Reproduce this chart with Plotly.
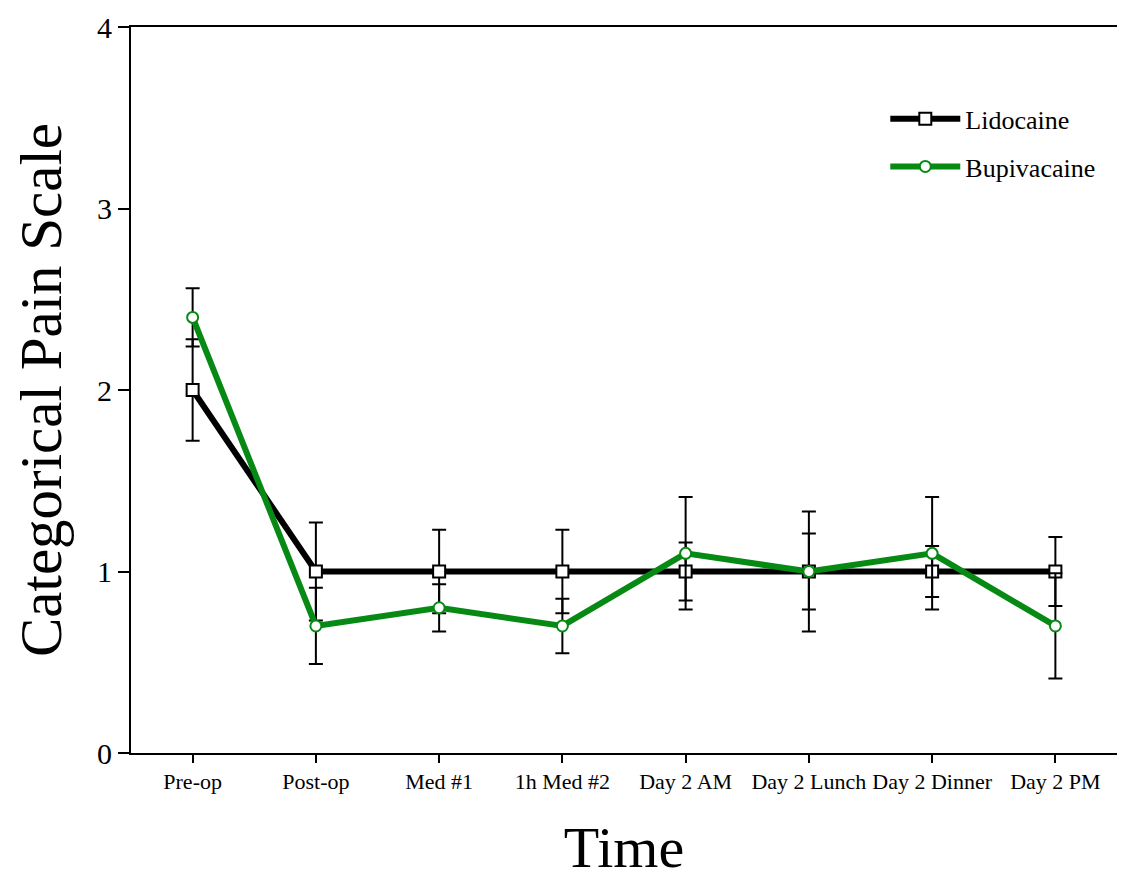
import plotly.graph_objects as go

categories = ["Pre-op", "Post-op", "Med #1", "1h Med #2", "Day 2 AM", "Day 2 Lunch", "Day 2 Dinner", "Day 2 PM"]
lidocaine = [2.0, 1.0, 1.0, 1.0, 1.0, 1.0, 1.0, 1.0]
lidocaine_err = [0.28, 0.27, 0.23, 0.23, 0.16, 0.21, 0.14, 0.19]
bupivacaine = [2.4, 0.7, 0.8, 0.7, 1.1, 1.0, 1.1, 0.7]
bupivacaine_err = [0.16, 0.21, 0.13, 0.15, 0.31, 0.33, 0.31, 0.29]
y_ticks = [0, 1, 2, 3, 4]

FONT = "Liberation Serif, Times New Roman, serif"
GREEN = "#078a14"

fig = go.Figure()
fig.add_trace(go.Scatter(
    x=categories, y=lidocaine, name="Lidocaine", mode="lines+markers", legendgroup="lido",
    line=dict(color="black", width=6),
    marker=dict(symbol="square", size=12, color="white", line=dict(color="black", width=2)),
    error_y=dict(type="data", array=lidocaine_err, visible=True, color="black", thickness=2, width=7),
))
fig.add_trace(go.Scatter(
    x=categories, y=bupivacaine, name="Bupivacaine", mode="lines+markers", legendgroup="bupi",
    line=dict(color=GREEN, width=6),
    marker=dict(symbol="circle", size=11, color="white", line=dict(color=GREEN, width=2)),
    error_y=dict(type="data", array=bupivacaine_err, visible=True, color="black", thickness=2, width=7),
))

fig.update_layout(
    width=1125, height=878,
    margin=dict(l=123, r=16, t=19, b=133),
    paper_bgcolor="white", plot_bgcolor="white",
    font=dict(family=FONT, color="black"),
    showlegend=True,
    legend=dict(x=0.765, y=0.906, xanchor="left", yanchor="top",
                font=dict(family=FONT, size=26, color="black"),
                bgcolor="rgba(0,0,0,0)", itemwidth=70, tracegroupgap=11),
    xaxis=dict(
        type="category", range=[-0.5, 7.5], automargin=False,
        showline=True, linecolor="black", linewidth=2, mirror=True,
        ticks="outside", ticklen=8, tickwidth=1.5, tickcolor="black",
        tickfont=dict(family=FONT, size=22, color="black"),
        showgrid=False, zeroline=False,
        title=dict(text="Time", font=dict(family=FONT, size=58, color="black"), standoff=33),
    ),
    yaxis=dict(
        range=[0, 4], tickvals=y_ticks, automargin=False, ticklabeloverflow="allow",
        showline=True, linecolor="black", linewidth=2, mirror=True,
        ticks="outside", ticklen=11, tickwidth=2, tickcolor="black",
        tickfont=dict(family=FONT, size=30, color="black"),
        showgrid=False, zeroline=False,
        title=dict(text="Categorical Pain Scale", font=dict(family=FONT, size=59, color="black"), standoff=47),
    ),
)

fig.write_html("out.html")
